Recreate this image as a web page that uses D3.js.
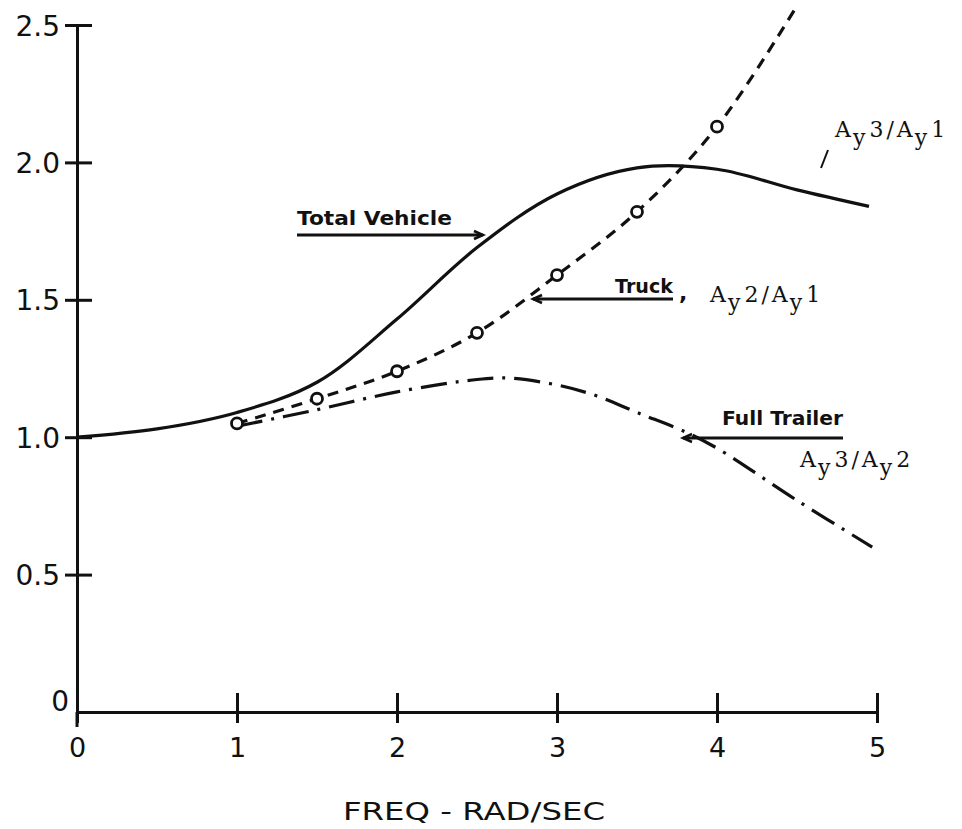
<!DOCTYPE html>
<html>
<head>
<meta charset="utf-8">
<script src="https://cdn.jsdelivr.net/npm/d3@7"></script>
<style>
  body { margin: 0; background: #fff; }
  svg { display: block; }
</style>
</head>
<body>
<div id="chart"></div>
<script>
// values
const xTicks = [0, 1, 2, 3, 4, 5];
const yTicks = [0, 0.5, 1.0, 1.5, 2.0, 2.5];
const yTickLabels = ["0", "0.5", "1.0", "1.5", "2.0", "2.5"];

// total vehicle, solid
const totalX = [0, 0.5, 1.0, 1.5, 2.0, 2.5, 3.0, 3.5, 4.0, 4.5, 4.95];
const totalY = [1.0, 1.03, 1.09, 1.2, 1.43, 1.69, 1.885, 1.98, 1.975, 1.9, 1.84];

// truck Ay2/Ay1, dashed through the circles
const truckX = [1.0, 1.5, 2.0, 2.5, 3.0, 3.5, 4.0, 4.5];
const truckY = [1.05, 1.14, 1.24, 1.38, 1.59, 1.82, 2.13, 2.57];
const truckPtX = [1.0, 1.5, 2.0, 2.5, 3.0, 3.5, 4.0];
const truckPtY = [1.05, 1.14, 1.24, 1.38, 1.59, 1.82, 2.13];

// full trailer Ay3/Ay2, dash-dot
const trailerX = [1.0, 1.5, 2.0, 2.5, 2.7, 3.0, 3.25, 3.5, 3.8, 4.0, 4.5, 4.97];
const trailerY = [1.04, 1.1, 1.165, 1.21, 1.215, 1.19, 1.15, 1.09, 1.02, 0.96, 0.77, 0.6];

const W = 962, H = 829;
const ink = "#111";

const svg = d3.select("#chart")
  .append("svg")
  .attr("width", W)
  .attr("height", H);

const x = d3.scaleLinear().domain([0, 5]).range([77, 877]);
const y = d3.scaleLinear().domain([0, 2.5]).range([712, 25]);

// clip so the truck line stops at the top edge
svg.append("defs").append("clipPath")
  .attr("id", "clip")
  .append("rect")
  .attr("x", 0).attr("y", 8)
  .attr("width", W).attr("height", H);

// x axis
const xAxis = svg.append("g")
  .attr("transform", `translate(0,${y(0)})`)
  .call(d3.axisBottom(x).tickValues(xTicks).tickSize(0).tickFormat(d3.format("d")));
xAxis.select(".domain").attr("stroke", ink).attr("stroke-width", 3.2);
xAxis.selectAll(".tick line")
  .attr("y1", -19).attr("y2", 11)
  .attr("stroke", ink).attr("stroke-width", 3);
xAxis.selectAll(".tick text")
  .attr("y", 26).attr("dy", "0.71em")
  .attr("fill", ink)
  .style("font-family", "DejaVu Sans")
  .style("font-size", "27px");

// y axis
const yAxis = svg.append("g")
  .attr("transform", `translate(${x(0)},0)`)
  .call(d3.axisLeft(y).tickValues(yTicks).tickSize(0).tickFormat((d, i) => yTickLabels[i]));
yAxis.select(".domain").attr("stroke", ink).attr("stroke-width", 3);
yAxis.selectAll(".tick line")
  .attr("x1", d => d === 0 ? 0 : -12).attr("x2", d => d === 0 ? 0 : 15)
  .attr("stroke", ink).attr("stroke-width", 3);
yAxis.selectAll(".tick text")
  .attr("x", d => d === 0 ? -8 : -17)
  .attr("dy", d => d === 0 ? "-0.05em" : "0.36em")
  .attr("fill", ink)
  .style("font-family", "DejaVu Sans")
  .style("font-size", "28px");
// axis runs a bit below zero like the original
svg.append("line")
  .attr("x1", x(0)).attr("x2", x(0))
  .attr("y1", y(0)).attr("y2", y(0) + 15)
  .attr("stroke", ink).attr("stroke-width", 3);

// curves
const line = d3.line()
  .x(d => x(d[0]))
  .y(d => y(d[1]))
  .curve(d3.curveCatmullRom.alpha(0.5));

const curves = svg.append("g").attr("clip-path", "url(#clip)");

curves.append("path")
  .datum(d3.zip(totalX, totalY))
  .attr("fill", "none")
  .attr("stroke", ink)
  .attr("stroke-width", 3.2)
  .attr("d", line);

curves.append("path")
  .datum(d3.zip(truckX, truckY))
  .attr("fill", "none")
  .attr("stroke", ink)
  .attr("stroke-width", 3.2)
  .attr("stroke-dasharray", "11,8")
  .attr("d", line);

curves.append("path")
  .datum(d3.zip(trailerX, trailerY))
  .attr("fill", "none")
  .attr("stroke", ink)
  .attr("stroke-width", 3.2)
  .attr("stroke-dasharray", "26,9,3,9")
  .attr("d", line);

svg.selectAll(".pt")
  .data(d3.zip(truckPtX, truckPtY))
  .join("circle")
  .attr("class", "pt")
  .attr("cx", d => x(d[0]))
  .attr("cy", d => y(d[1]))
  .attr("r", 5.5)
  .attr("fill", "#fff")
  .attr("stroke", ink)
  .attr("stroke-width", 2.8);

// labels with leader lines
const lab = svg.append("g")
  .style("font-family", "DejaVu Sans")
  .style("font-weight", "bold")
  .attr("fill", ink);

function leader(x1, y1, x2, y2, headAt) {
  svg.append("line")
    .attr("x1", x1).attr("y1", y1).attr("x2", x2).attr("y2", y2)
    .attr("stroke", ink).attr("stroke-width", 3);
  const hx = headAt === "left" ? x1 : x2;
  const s = headAt === "left" ? 1 : -1;
  svg.append("path")
    .attr("d", `M${hx + s * 9},${y1 - 4} L${hx},${y1} L${hx + s * 9},${y1 + 4}`)
    .attr("fill", "none")
    .attr("stroke", ink)
    .attr("stroke-width", 2.5);
}

lab.append("text")
  .attr("x", 297).attr("y", 225)
  .attr("textLength", 155).attr("lengthAdjust", "spacingAndGlyphs")
  .style("font-size", "20px")
  .text("Total Vehicle");
leader(297, 235, 483, 235, "right");

lab.append("text")
  .attr("x", 615).attr("y", 293)
  .attr("textLength", 58).attr("lengthAdjust", "spacingAndGlyphs")
  .style("font-size", "20px")
  .text("Truck");
lab.append("text")
  .attr("x", 679).attr("y", 300)
  .style("font-size", "22px")
  .text(",");
leader(533, 299, 673, 299, "left");

lab.append("text")
  .attr("x", 722).attr("y", 425)
  .attr("textLength", 121).attr("lengthAdjust", "spacingAndGlyphs")
  .style("font-size", "20px")
  .text("Full Trailer");
leader(683, 438, 843, 438, "left");

// typewriter ratio labels
function ratio(x0, y0, a, b) {
  const t = svg.append("text")
    .attr("x", x0).attr("y", y0)
    .attr("fill", ink)
    .style("font-family", "DejaVu Serif")
    .style("font-size", "22px")
    .style("letter-spacing", "3px");
  t.append("tspan").text("A");
  t.append("tspan").attr("dy", 8).text("y");
  t.append("tspan").attr("dy", -8).attr("dx", 1).text(a + "/A");
  t.append("tspan").attr("dy", 8).text("y");
  t.append("tspan").attr("dy", -8).attr("dx", 1).text(b);
}
ratio(710, 302, "2", "1");
ratio(800, 467, "3", "2");
ratio(835, 137, "3", "1");

svg.append("line")
  .attr("x1", 821).attr("y1", 168).attr("x2", 828).attr("y2", 150)
  .attr("stroke", ink).attr("stroke-width", 2);

// x axis title
svg.append("text")
  .attr("x", 474).attr("y", 820)
  .attr("text-anchor", "middle")
  .attr("fill", ink)
  .attr("textLength", 262).attr("lengthAdjust", "spacingAndGlyphs")
  .style("font-family", "DejaVu Sans")
  .style("font-size", "25px")
  .text("FREQ - RAD/SEC");
</script>
</body>
</html>
